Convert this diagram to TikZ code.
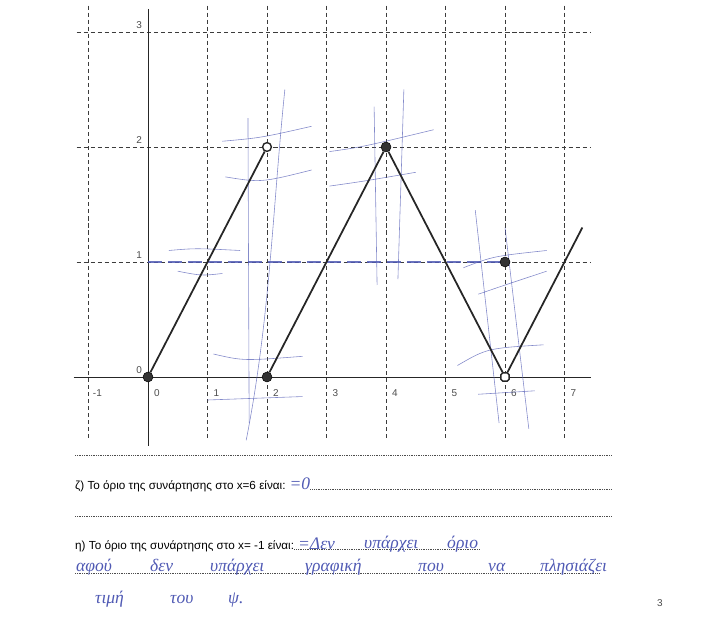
\documentclass[tikz,border=0pt]{standalone}
\usepackage{fontspec}
\setmainfont{Liberation Sans}
\newfontfamily\handfont{Liberation Serif}
\usetikzlibrary{positioning,calc}
\definecolor{penblue}{RGB}{80,90,180}
\definecolor{gridgray}{RGB}{60,60,60}
\tikzset{
    gridline/.style={gridgray, line width=0.6pt, dash pattern=on 3.5pt off 2.5pt},
    axisline/.style={black!85, line width=0.7pt},
    graphline/.style={black!85, line width=1.5pt},
    fullpt/.style={circle, draw=black, fill=black!80, inner sep=0pt, minimum size=8.5pt},
    openpt/.style={circle, draw=black!85, fill=white, line width=1.2pt, inner sep=0pt, minimum size=7.5pt},
    ticklabel/.style={font=\fontsize{8.5}{9}\selectfont, text=black!70, inner sep=0pt},
    printed/.style={font=\fontsize{10}{12}\selectfont, anchor=base west, inner sep=0pt},
    hand/.style={font=\handfont\itshape\fontsize{15}{17}\selectfont, text=penblue, anchor=base west, inner sep=0pt},
    penstroke/.style={penblue, line width=0.5pt, opacity=0.7},
    leader/.style={black!70, line width=0.5pt, dash pattern=on 0.5pt off 1pt},
}
\begin{document}
\begin{tikzpicture}[x=0.03cm, y=-0.03cm]
    \useasboundingbox (0,0) rectangle (708,625);

    % Graph of f
    \begin{scope}[shift={(148,377)}, x=1.785cm, y=3.45cm]
        % grid
        \foreach \i in {-1,1,2,...,7}
            \draw[gridline] (\i,3.23) -- (\i,-0.55);
        \foreach \j in {1,2,3}
            \draw[gridline] (-1.2,\j) -- (7.45,\j);
        % axes
        \draw[axisline] (-1.25,0) -- (7.45,0);
        \draw[axisline] (0,3.2) -- (0,-0.6);
        % tick labels
        \foreach \i in {-1,0,...,7}
            \node[ticklabel] (tx\i) at (\i+0.15,-0.14) {\i};
        \foreach \j in {0,1,2,3}
            \node[ticklabel] (ty\j) at (-0.15,\j+0.06) {\j};

        % student pen strokes
        \draw[penstroke, line width=1.2pt, opacity=0.85, dash pattern=on 12pt off 5pt] (0,1.0) -- (6,1.0);
        \draw[penstroke] (0.35,1.1) .. controls (0.8,1.12) .. (1.55,1.1);
        \draw[penstroke] (0.5,0.92) .. controls (0.9,0.88) .. (1.25,0.9);
        \draw[penstroke] (1.25,2.05) .. controls (1.9,2.08) .. (2.75,2.18);
        \draw[penstroke] (1.3,1.74) .. controls (1.9,1.69) .. (2.75,1.8);
        \draw[penstroke] (1.68,2.25) -- (1.7,-0.4);
        \draw[penstroke] (2.3,2.5) .. controls (2.1,1.5) and (2.05,0.5) .. (1.65,-0.55);
        \draw[penstroke] (3.05,1.96) .. controls (3.6,2.0) .. (4.8,2.15);
        \draw[penstroke] (3.05,1.66) .. controls (3.6,1.7) .. (4.5,1.78);
        \draw[penstroke] (3.8,2.35) -- (3.85,0.8);
        \draw[penstroke] (4.3,2.5) -- (4.2,0.85);
        \draw[penstroke] (5.3,0.95) .. controls (5.8,1.05) .. (6.7,1.1);
        \draw[penstroke] (5.55,0.72) .. controls (6.0,0.8) .. (6.7,0.92);
        \draw[penstroke] (5.5,1.45) -- (5.9,-0.4);
        \draw[penstroke] (6.0,1.3) -- (6.4,-0.45);
        \draw[penstroke] (5.2,0.1) .. controls (5.7,0.25) .. (6.65,0.28);
        \draw[penstroke] (5.55,-0.15) -- (6.5,-0.12);
        \draw[penstroke] (1.1,0.2) .. controls (1.6,0.14) .. (2.6,0.18);
        \draw[penstroke] (1.0,-0.2) -- (2.6,-0.17);

        % points
        \node[fullpt] (A) at (0,0) {};
        \node[openpt] (B) at (2,2) {};
        \node[fullpt] (C) at (2,0) {};
        \node[fullpt] (D) at (4,2) {};
        \node[openpt, rectangle, rounded corners=1.5pt, minimum size=7pt] (E) at (6,0) {};
        \node[fullpt] (F) at (6,1) {};
        \coordinate (G) at (7.3,1.3);

        % pieces
        \draw[graphline] (A) -- (B);
        \draw[graphline] (C) -- (D) -- (E) -- (G);
    \end{scope}

    % Questions
    \draw[leader] (75,455) -- (612,455);
    \node[printed] (qz) at (75,489) {ζ) Το όριο της συνάρτησης στο x=6 είναι:};
    \node[hand, right=3pt of qz.base east, anchor=base west] (az) {=0};
    \draw[leader] (az.base east) -- (612,489);

    \draw[leader] (75,516) -- (612,516);
    \node[printed] (qe) at (75,549) {η) Το όριο της συνάρτησης στο x= -1 είναι:};
    \draw[leader] (qe.base east) -- (480,549);
    \node[hand, right=3pt of qe.base east, anchor=base west] (h1) {=Δεν};
    \node[hand] (h2) at (364,548) {υπάρχει};
    \node[hand] (h3) at (447,548) {όριο};

    \draw[leader] (75,573) -- (600,573);
    \node[hand] (h4) at (76,571) {αφού};
    \node[hand] (h5) at (150,571) {δεν};
    \node[hand] (h6) at (210,571) {υπάρχει};
    \node[hand] (h7) at (305,571) {γραφική};
    \node[hand] (h8) at (418,571) {που};
    \node[hand] (h9) at (488,571) {να};
    \node[hand] (h10) at (540,571) {πλησιάζει};

    \node[hand] (h11) at (95,603) {τιμή};
    \node[hand] (h12) at (170,603) {του};
    \node[hand] (h13) at (228,603) {ψ.};

    \node[ticklabel] (page) at (660,603) {3};
\end{tikzpicture}
\end{document}
